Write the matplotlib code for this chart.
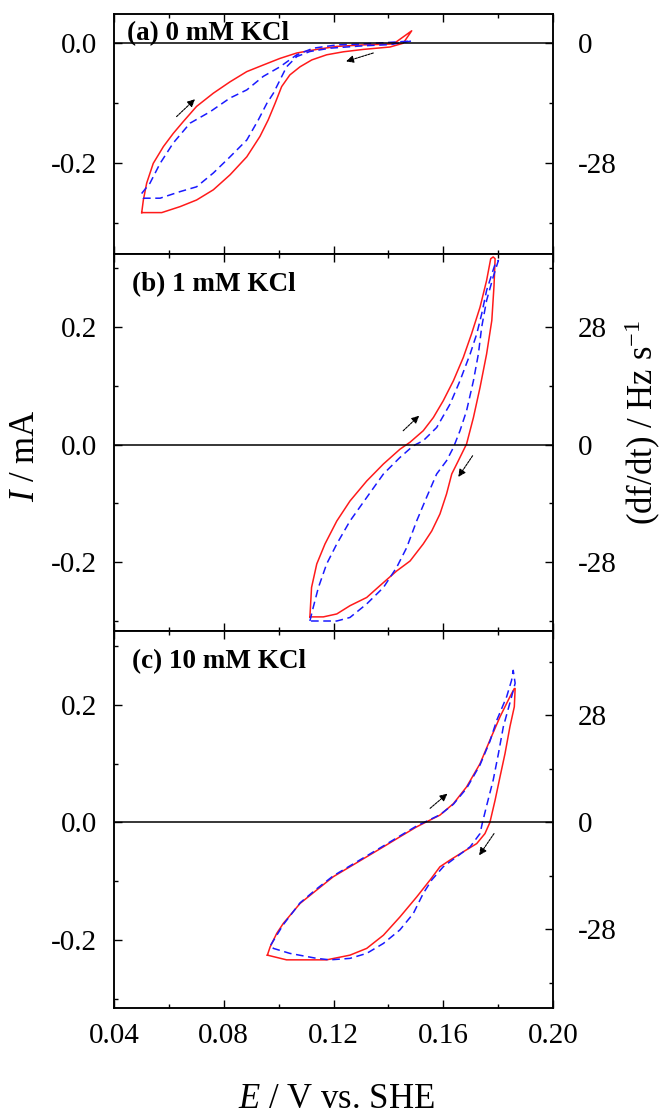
import matplotlib
matplotlib.use("Agg")
import matplotlib.pyplot as plt
from matplotlib.ticker import MultipleLocator, FuncFormatter

plt.rcParams['font.family'] = ['Liberation Serif', 'DejaVu Serif']
plt.rcParams['mathtext.fontset'] = 'custom'
plt.rcParams['mathtext.rm'] = 'Liberation Serif'
plt.rcParams['mathtext.it'] = 'Liberation Serif:italic'
plt.rcParams['axes.unicode_minus'] = False

# CV loops, E in V vs. SHE and I in mA; red = current, blue = df/dt
panel_titles = ["(a) 0 mM KCl", "(b) 1 mM KCl", "(c) 10 mM KCl"]

a_red_E = [0.0501, 0.0507, 0.0519, 0.0543, 0.0580, 0.0616, 0.0653, 0.0701, 0.0762, 0.0823,
           0.0884, 0.0944, 0.1005, 0.1066, 0.1139, 0.1212, 0.1309, 0.1418, 0.1485,
           0.1454, 0.1406, 0.1309, 0.1236, 0.1175, 0.1121, 0.1078, 0.1041, 0.1011, 0.0987,
           0.0962, 0.0932, 0.0884, 0.0823, 0.0762, 0.0701, 0.0641, 0.0574, 0.0501]
a_red_I = [-0.282, -0.261, -0.233, -0.200, -0.172, -0.150, -0.130, -0.105, -0.083, -0.064,
           -0.047, -0.036, -0.025, -0.016, -0.010, -0.005, -0.0025, -0.001, 0.021,
           0.0003, -0.006, -0.010, -0.014, -0.019, -0.0275, -0.039, -0.0525, -0.072, -0.100,
           -0.1275, -0.155, -0.189, -0.219, -0.244, -0.261, -0.272, -0.282, -0.282]
a_blue_E = [0.0501, 0.0531, 0.0568, 0.0616, 0.0677, 0.0750, 0.0823, 0.0884, 0.0944, 0.1005,
            0.1066, 0.1126, 0.1212, 0.1309, 0.1485,
            0.1406, 0.1309, 0.1187, 0.1114, 0.1066, 0.1029, 0.1005, 0.0981, 0.0957, 0.0926,
            0.0884, 0.0823, 0.0762, 0.0701, 0.0641, 0.0568, 0.0507, 0.0501]
a_blue_I = [-0.250, -0.233, -0.200, -0.166, -0.133, -0.114, -0.091, -0.0775, -0.055, -0.039,
            -0.019, -0.008, -0.0025, -0.001, 0.004,
            -0.002, -0.004, -0.008, -0.0135, -0.022, -0.039, -0.061, -0.083, -0.100, -0.1275,
            -0.161, -0.189, -0.216, -0.239, -0.247, -0.258, -0.258, -0.250]

b_red_E = [0.1114, 0.1120, 0.1139, 0.1169, 0.1212, 0.1260, 0.1321, 0.1382, 0.1442, 0.1479,
           0.1527, 0.1564, 0.1600, 0.1637, 0.1673, 0.1703, 0.1734, 0.1758, 0.1773, 0.1782,
           0.1789, 0.1785, 0.1777, 0.1758, 0.1734, 0.1710, 0.1685, 0.1655, 0.1631, 0.1612,
           0.1588, 0.1558, 0.1527, 0.1479, 0.1430, 0.1369, 0.1321, 0.1260, 0.1212, 0.1163, 0.1114]
b_red_I = [-0.293, -0.243, -0.203, -0.169, -0.130, -0.096, -0.062, -0.033, -0.008, 0.004,
           0.0235, 0.046, 0.0745, 0.1085, 0.148, 0.188, 0.2335, 0.279, 0.316, 0.319,
           0.316, 0.270, 0.211, 0.154, 0.097, 0.046, 0.001, -0.0275, -0.050, -0.084,
           -0.118, -0.147, -0.169, -0.198, -0.215, -0.240, -0.260, -0.274, -0.288, -0.293, -0.293]
b_blue_E = [0.1114, 0.1126, 0.1145, 0.1175, 0.1212, 0.1260, 0.1321, 0.1382, 0.1442, 0.1491,
            0.1527, 0.1576, 0.1625, 0.1661, 0.1698, 0.1722, 0.1740, 0.1758, 0.1789, 0.1801,
            0.1782, 0.1758, 0.1740, 0.1728, 0.1710, 0.1685, 0.1661, 0.1637, 0.1612, 0.1576,
            0.1539, 0.1503, 0.1467, 0.1430, 0.1382, 0.1321, 0.1260, 0.1212, 0.1114]
b_blue_I = [-0.300, -0.277, -0.243, -0.203, -0.169, -0.130, -0.090, -0.050, -0.022, -0.002,
            0.0065, 0.029, 0.069, 0.1085, 0.154, 0.188, 0.222, 0.262, 0.307, 0.313,
            0.285, 0.245, 0.1995, 0.154, 0.1085, 0.0575, 0.0235, -0.005, -0.0275, -0.050,
            -0.090, -0.130, -0.175, -0.209, -0.243, -0.271, -0.294, -0.300, -0.300]

c_red_E = [0.0959, 0.0969, 0.0993, 0.1017, 0.1078, 0.1139, 0.1199, 0.1260, 0.1321, 0.1382,
           0.1442, 0.1503, 0.1539, 0.1588, 0.1637, 0.1685, 0.1734, 0.1770, 0.1807, 0.1843, 0.1859,
           0.1862, 0.1859, 0.1843, 0.1825, 0.1807, 0.1789, 0.1770, 0.1752, 0.1722, 0.1673,
           0.1625, 0.1588, 0.1552, 0.1503, 0.1442, 0.1382, 0.1321, 0.1260, 0.1175, 0.1029, 0.0959]
c_red_I = [-0.226, -0.212, -0.189, -0.172, -0.138, -0.115, -0.0925, -0.0755, -0.0585, -0.0415,
           -0.0245, -0.0075, 0.001, 0.0125, 0.032, 0.0605, 0.100, 0.140, 0.180, 0.214, 0.228,
           0.228, 0.197, 0.163, 0.117, 0.078, 0.038, 0.0, -0.019, -0.036, -0.050,
           -0.064, -0.0755, -0.098, -0.127, -0.161, -0.192, -0.2145, -0.226, -0.234, -0.234, -0.226]
c_blue_E = [0.0971, 0.1017, 0.1078, 0.1139, 0.1199, 0.1260, 0.1321, 0.1382, 0.1442, 0.1503,
            0.1539, 0.1588, 0.1637, 0.1685, 0.1734, 0.1770, 0.1795, 0.1831, 0.1849, 0.1855,
            0.1862, 0.1849, 0.1819, 0.1801, 0.1782, 0.1760, 0.1743, 0.1734, 0.1698, 0.1649,
            0.1600, 0.1558, 0.1527, 0.1491, 0.1442, 0.1382, 0.1321, 0.1260, 0.1187, 0.1139,
            0.1041, 0.0981, 0.0971]
c_blue_I = [-0.209, -0.174, -0.137, -0.113, -0.091, -0.074, -0.057, -0.040, -0.023, -0.006,
            0.002, 0.013, 0.031, 0.058, 0.098, 0.138, 0.174, 0.214, 0.242, 0.259,
            0.237, 0.214, 0.163, 0.117, 0.072, 0.032, 0.0, -0.019, -0.0415, -0.0585,
            -0.0755, -0.098, -0.121, -0.155, -0.183, -0.206, -0.223, -0.2315, -0.234, -0.2315,
            -0.223, -0.2145, -0.209]

# sweep direction arrows: (E start, I start, E end, I end)
a_arrows = [(0.0628, -0.122, 0.0695, -0.093), (0.1345, -0.016, 0.1246, -0.030)]
b_arrows = [(0.1454, 0.0235, 0.1512, 0.049), (0.1707, -0.019, 0.1655, -0.055)]
c_arrows = [(0.1552, 0.024, 0.1615, 0.049), (0.1785, -0.019, 0.1731, -0.056)]

# axis limits (mA) and the df/dt scale factor (Hz s-1 per mA) of each panel
ylims = [(-0.351, 0.049), (-0.317, 0.324), (-0.316, 0.326)]
dfdt_factor = [140.0, 140.0, 153.7]
left_ticks = [[-0.2, 0.0], [-0.2, 0.0, 0.2], [-0.2, 0.0, 0.2]]
right_ticks = [[-28, 0], [-28, 0, 28], [-28, 0, 28]]

W, H = 662, 1117
fig = plt.figure(figsize=(W / 100, H / 100), dpi=100)

# panel boxes in pixels from the top of the figure
x_left, x_right = 114, 553
edges = [14, 254, 631, 1008]

TICK_FS = 21
LABEL_FS = 25


def style_axis(ax):
    ax.tick_params(which='both', direction='in', top=True, bottom=True, width=1.0,
                   labelsize=TICK_FS)
    ax.tick_params(which='major', length=6)
    ax.tick_params(which='minor', length=3)
    for s in ax.spines.values():
        s.set_linewidth(1.1)


def draw_panel(i, red_E, red_I, blue_E, blue_I, arrows):
    top, bottom = edges[i], edges[i + 1]
    rect = [x_left / W, 1 - bottom / H, (x_right - x_left) / W, (bottom - top) / H]
    ax = fig.add_axes(rect)
    ax.plot(red_E, red_I, color='#ff1a1a', lw=1.1)
    ax.plot(blue_E, blue_I, color='#1a1aff', lw=1.1, linestyle=(0, (5, 3)))
    ax.axhline(0.0, color='black', lw=1.1)
    for e0, i0, e1, i1 in arrows:
        ax.annotate('', xy=(e1, i1), xytext=(e0, i0),
                    arrowprops=dict(arrowstyle='-|>', color='black', lw=0.8,
                                    linestyle=(0, (2, 1)), mutation_scale=11,
                                    shrinkA=0, shrinkB=0))
    ax.set_xlim(0.04, 0.20)
    ax.set_ylim(*ylims[i])
    ax.xaxis.set_major_locator(MultipleLocator(0.04))
    ax.xaxis.set_minor_locator(MultipleLocator(0.02))
    ax.set_yticks(left_ticks[i])
    ax.yaxis.set_minor_locator(MultipleLocator(0.1))
    ax.yaxis.set_major_formatter(FuncFormatter(lambda v, p: "%.1f" % v))
    style_axis(ax)
    ax.tick_params(axis='y', pad=12)
    if i < 2:
        ax.tick_params(axis='x', labelbottom=False)
    else:
        ax.xaxis.set_major_formatter(FuncFormatter(lambda v, p: "%.2f" % v))
        ax.tick_params(axis='x', pad=11)

    # df/dt axis on the right shares the same plot box
    ax2 = ax.twinx()
    lo, hi = ylims[i]
    ax2.set_ylim(lo * dfdt_factor[i], hi * dfdt_factor[i])
    ax2.set_yticks(right_ticks[i])
    ax2.yaxis.set_minor_locator(MultipleLocator(14))
    ax2.tick_params(which='both', direction='in', width=1.0, labelsize=TICK_FS, pad=18)
    ax2.tick_params(which='major', length=6)
    ax2.tick_params(which='minor', length=3)
    for s in ax2.spines.values():
        s.set_linewidth(1.1)

    ax.text(0.03 if i == 0 else 0.04, 0.92, panel_titles[i],
            transform=ax.transAxes, fontsize=19.5, fontweight='bold',
            ha='left', va='center')
    return ax


draw_panel(0, a_red_E, a_red_I, a_blue_E, a_blue_I, a_arrows)
draw_panel(1, b_red_E, b_red_I, b_blue_E, b_blue_I, b_arrows)
draw_panel(2, c_red_E, c_red_I, c_blue_E, c_blue_I, c_arrows)

fig.text(26 / W, 1 - 456 / H, r'$I$ / mA', rotation=90, fontsize=LABEL_FS,
         ha='center', va='center')
fig.text(643 / W, 1 - 422 / H, r'(df/dt) / Hz s$^{\mathrm{-1}}$', rotation=90,
         fontsize=LABEL_FS, ha='center', va='center')
fig.text(336 / W, 1 - 1116 / H, r'$E$ / V vs. SHE', fontsize=LABEL_FS,
         ha='center', va='bottom')

fig.savefig('out.png', dpi=100)
